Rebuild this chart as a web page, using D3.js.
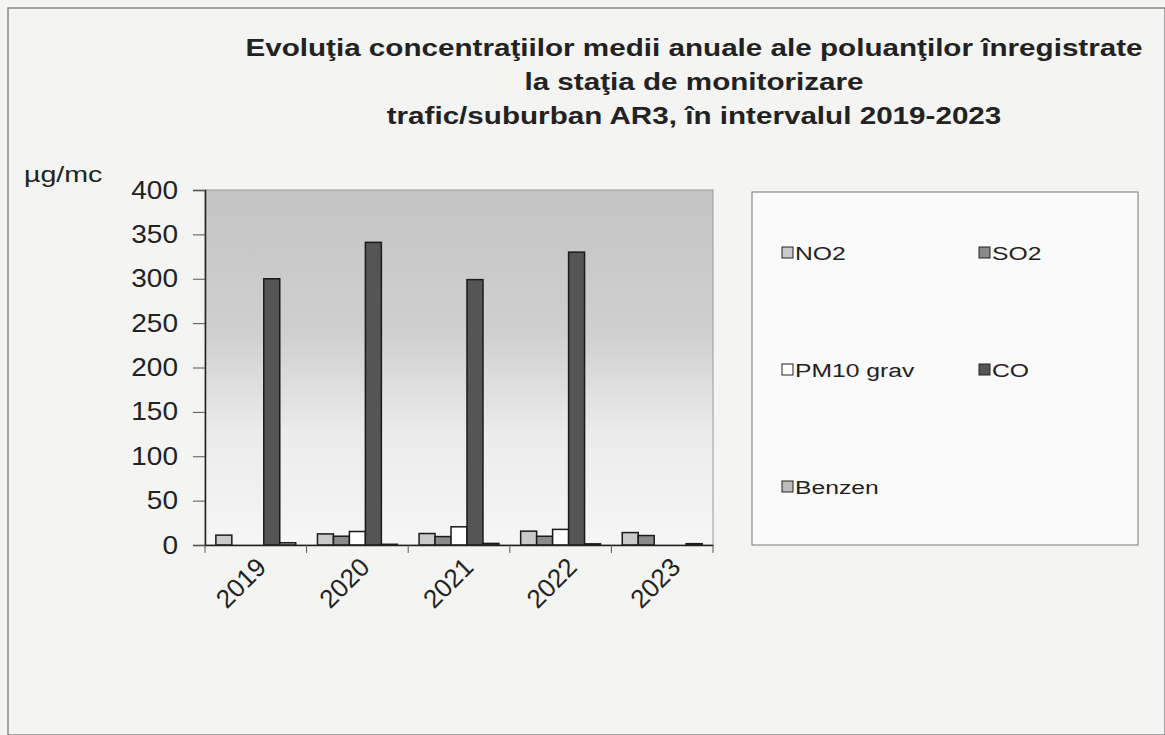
<!DOCTYPE html>
<html>
<head>
<meta charset="utf-8">
<script src="https://cdn.jsdelivr.net/npm/d3@7"></script>
<style>
  body { margin: 0; background: #f4f4f2; }
  svg { display: block; font-family: "Liberation Sans", Arial, sans-serif; }
</style>
</head>
<body>
<div id="chart"></div>
<script>
const years = ["2019", "2020", "2021", "2022", "2023"];
const pollutants = ["NO2", "SO2", "PM10 grav", "CO", "Benzen"];
const no2 = [11.15, 12.49, 12.93, 15.59, 13.99];
const so2 = [null, 9.89, 9.51, 9.86, 10.65];
const pm10 = [null, 15.2, 20.5, 17.6, null];
const co = [300, 341, 299, 330, null];
const benzen = [2.5, 0.8, 1.8, 1.3, 1.5];
const yTicks = [0, 50, 100, 150, 200, 250, 300, 350, 400];
const titleLines = [
  "Evoluţia concentraţiilor medii anuale ale poluanţilor înregistrate",
  "la staţia de monitorizare",
  "trafic/suburban AR3, în intervalul 2019-2023"
];

const seriesValues = [no2, so2, pm10, co, benzen];
const fills = ["#c9c9c9", "#8a8a8a", "#ffffff", "#555555", "#bdbdbd"];

const W = 1165, H = 735;
const plot = { left: 205, right: 713, top: 190, bottom: 545 };
// the scanned text is wider than the installed fonts
const stretch = 1.235;

const svg = d3.select("#chart").append("svg")
  .attr("width", W)
  .attr("height", H);

const defs = svg.append("defs");
const grad = defs.append("linearGradient")
  .attr("id", "plotBg")
  .attr("x1", 0).attr("y1", 0).attr("x2", 0).attr("y2", 1);
grad.append("stop").attr("offset", "0%").attr("stop-color", "#c4c4c4");
grad.append("stop").attr("offset", "40%").attr("stop-color", "#cfcfcf");
grad.append("stop").attr("offset", "68%").attr("stop-color", "#ebebeb");
grad.append("stop").attr("offset", "100%").attr("stop-color", "#f6f6f6");

// outer frame
svg.append("rect")
  .attr("x", 8).attr("y", 8)
  .attr("width", W - 8).attr("height", H - 8)
  .attr("fill", "none")
  .attr("stroke", "#888").attr("stroke-width", 1.5);

// title
svg.append("g")
  .selectAll("text")
  .data(titleLines)
  .join("text")
  .attr("transform", (d, i) => `translate(694,${56 + i * 34}) scale(${stretch},1)`)
  .attr("text-anchor", "middle")
  .attr("font-size", 24)
  .attr("font-weight", "bold")
  .attr("fill", "#222")
  .text(d => d);

const x0 = d3.scaleBand()
  .domain(years)
  .range([plot.left, plot.right]);

const x1 = d3.scaleBand()
  .domain(pollutants)
  .range([0, x0.bandwidth()])
  .paddingOuter(0.68)
  .paddingInner(0);

const y = d3.scaleLinear()
  .domain([0, 400])
  .range([plot.bottom, plot.top]);

// plot area
svg.append("rect")
  .attr("x", plot.left).attr("y", plot.top)
  .attr("width", plot.right - plot.left)
  .attr("height", plot.bottom - plot.top)
  .attr("fill", "url(#plotBg)")
  .attr("stroke", "#9a9a9a");

// bars
const groups = svg.append("g")
  .selectAll("g")
  .data(years)
  .join("g")
  .attr("transform", d => `translate(${x0(d)},0)`);

groups.selectAll("rect")
  .data((yr, yi) => pollutants.map((p, pi) => ({ p, pi, v: seriesValues[pi][yi] }))
    .filter(d => d.v !== null))
  .join("rect")
  .attr("x", d => x1(d.p))
  .attr("y", d => y(d.v))
  .attr("width", x1.bandwidth())
  .attr("height", d => y(0) - y(d.v))
  .attr("fill", d => fills[d.pi])
  .attr("stroke", "#1a1a1a")
  .attr("stroke-width", 1.5);

// y axis
const yAxis = svg.append("g")
  .attr("transform", `translate(${plot.left},0)`)
  .call(d3.axisLeft(y).tickValues(yTicks).tickSize(12).tickPadding(0));
yAxis.select(".domain").attr("stroke", "#222").attr("stroke-width", 1.5);
yAxis.selectAll(".tick line").attr("stroke", "#555");
yAxis.selectAll(".tick text")
  .attr("x", null)
  .attr("transform", "translate(-27,0) scale(1.12,1)")
  .attr("font-size", 25)
  .attr("fill", "#222");

// x axis
const xAxis = svg.append("g")
  .attr("transform", `translate(0,${plot.bottom})`)
  .call(d3.axisBottom(x0).tickSize(0).tickFormat(""));
xAxis.select(".domain").attr("stroke", "#222").attr("stroke-width", 1.5);

svg.append("g")
  .selectAll("line")
  .data(d3.range(years.length + 1))
  .join("line")
  .attr("x1", i => plot.left + i * x0.bandwidth())
  .attr("x2", i => plot.left + i * x0.bandwidth())
  .attr("y1", plot.bottom)
  .attr("y2", plot.bottom + 8)
  .attr("stroke", "#555");

svg.append("g")
  .selectAll("text")
  .data(years)
  .join("text")
  .attr("transform", (d, i) => `translate(${x0(d) + x0.bandwidth() / 2 - 1 + i * 2},${plot.bottom + 11}) rotate(-45)`)
  .attr("text-anchor", "end")
  .attr("dy", "0.7em")
  .attr("font-size", 26)
  .attr("fill", "#222")
  .text(d => d);

// unit label
svg.append("text")
  .attr("transform", `translate(24,182) scale(1.3,1)`)
  .attr("font-size", 22)
  .attr("fill", "#222")
  .text("µg/mc");

// legend
const legend = svg.append("g");
legend.append("rect")
  .attr("x", 752).attr("y", 192)
  .attr("width", 386).attr("height", 353)
  .attr("fill", "#fafafa")
  .attr("stroke", "#777");

const legendPos = [[788, 253], [985, 253], [788, 370], [985, 370], [788, 487]];
const items = legend.selectAll("g")
  .data(pollutants)
  .join("g")
  .attr("transform", (d, i) => `translate(${legendPos[i][0]},${legendPos[i][1]})`);
items.append("rect")
  .attr("x", -6).attr("y", -6)
  .attr("width", 11).attr("height", 11)
  .attr("fill", (d, i) => fills[i])
  .attr("stroke", "#222");
items.append("text")
  .attr("transform", "translate(7,0) scale(1.3,1)")
  .attr("dy", "0.36em")
  .attr("font-size", 19)
  .attr("fill", "#222")
  .text(d => d);
</script>
</body>
</html>
